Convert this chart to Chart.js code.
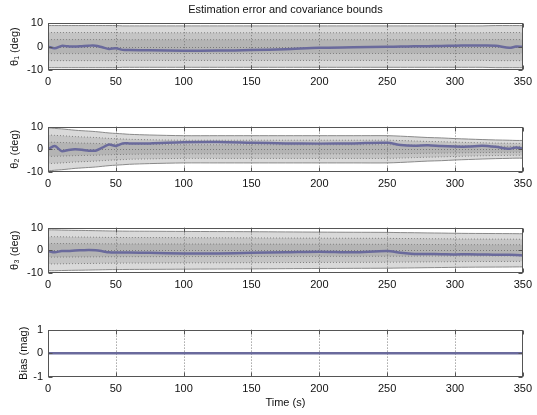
<!DOCTYPE html>
<html>
<head>
<meta charset="utf-8">
<script src="https://cdn.jsdelivr.net/npm/chart.js@4.4.1/dist/chart.umd.min.js"></script>
<style>
  body{margin:0;background:#fff;}
  #wrap{position:relative;width:537px;height:415px;overflow:hidden;}
  #wrap canvas{position:absolute;left:0;}
</style>
</head>
<body>
<div id="wrap">
  <canvas id="c1" width="537" height="92" style="top:0px"></canvas>
  <canvas id="c2" width="537" height="79" style="top:114.5px"></canvas>
  <canvas id="c3" width="537" height="79" style="top:216px"></canvas>
  <canvas id="c4" width="537" height="97" style="top:318px"></canvas>
</div>
<script>
// time axis (s)
const time = [0,5,10,15,20,25,30,35,40,45,50,55,60,75,100,125,150,175,200,225,250,260,270,280,290,300,310,320,330,340,345,350]
const xTicks = [0,50,100,150,200,250,300,350]

// estimation error (deg)
const err_th1 = [0,-0.7,0.3,0.1,0.0,0.2,0.4,0.4,-0.3,-1.0, -0.7,-1.4,-1.5,-1.6,-1.8,-1.7,-1.5,-1.1,-0.5,-0.3, -0.1,0.0,0.1,0.2,0.3,0.4,0.5,0.5,0.4,-0.5, 0.0,-0.1]
const err_th2 = [0,1.5,-0.8,-0.3,0,-0.2,-0.6,-0.6,0.7,2.1, 1.5,2.6,2.6,2.6,3.1,3.2,2.9,2.6,2.5,2.6, 2.9,1.9,1.6,1.8,1.4,1.2,1.2,1.6,1.1,0.2, 0.8,0.2]
const err_th3 = [-0.3,-0.9,-0.3,-0.3,-0.1,0,0.1,0,-0.4,-0.9, -1.0,-1.0,-1.0,-1.1,-1.4,-1.4,-1.1,-0.9,-0.6,-0.9, -0.3,-1.1,-1.6,-1.6,-1.7,-1.8,-1.7,-1.8,-2.0,-2.0, -2.1,-2.3]
const err_bias = [0,0,0,0,0,0,0,0,0,0, 0,0,0,0,0,0,0,0,0,0, 0,0,0,0,0,0,0,0,0,0, 0,0]

// 1-sigma covariance bound (deg); bands are drawn at 1,2,3 sigma
const sig_th1 = [3.0,3.0,3.0,3.0,3.0,3.0,3.0,3.0,3.0,3.0, 3.0,2.95,2.95,2.95,2.95,2.95,2.95,2.95,2.95,2.95, 2.95,2.95,2.95,2.95,2.95,2.95,2.95,2.95,3.0,3.0, 3.0,3.0]
const sig_th2 = [3.17,3.07,3.0,2.9,2.8,2.73,2.67,2.6,2.5,2.4, 2.33,2.27,2.2,2.1,2.0,2.0,2.0,2.0,2.0,2.0, 2.0,1.93,1.83,1.73,1.67,1.57,1.5,1.43,1.37,1.33, 1.3,1.3]
const sig_th3 = [3.0,3.0,2.97,2.95,2.93,2.92,2.9,2.88,2.86,2.84, 2.83,2.82,2.81,2.8,2.77,2.75,2.73,2.7,2.67,2.65, 2.63,2.6,2.58,2.55,2.53,2.5,2.48,2.47,2.46,2.45, 2.44,2.43]

const FONT = "'Liberation Sans', Arial, Helvetica, sans-serif"
Chart.defaults.font.family = FONT
Chart.defaults.font.size = 11
Chart.defaults.color = '#111'
Chart.defaults.animation = false

const LINE_COLOR = '#6a6a9c'
const BAND = ['#b4b4b4','#c4c4c4','#d9d9d9']

const pts = (arr, k) => time.map((t, i) => ({x: t, y: arr[i] * k}))

// MATLAB style box, dotted grid and inward ticks
const axes_box = {
  id: 'axes_box',
  beforeDatasetsDraw(chart) {
    const {ctx, chartArea: a, scales: {x, y}} = chart
    ctx.save()
    ctx.strokeStyle = '#7a7a7a'
    ctx.lineWidth = 1
    ctx.setLineDash([1, 2])
    x.ticks.forEach((t) => {
      if (t.value <= x.min || t.value >= x.max) return
      const px = Math.round(x.getPixelForValue(t.value)) + 0.5
      ctx.beginPath(); ctx.moveTo(px, a.top); ctx.lineTo(px, a.bottom); ctx.stroke()
    })
    y.ticks.forEach((t) => {
      if (t.value <= y.min || t.value >= y.max) return
      const py = Math.round(y.getPixelForValue(t.value)) + 0.5
      ctx.beginPath(); ctx.moveTo(a.left, py); ctx.lineTo(a.right, py); ctx.stroke()
    })
    ctx.restore()
  },
  afterDatasetsDraw(chart) {
    const {ctx, chartArea: a, scales: {x, y}} = chart
    const L = Math.round(a.left) + 0.5, R = Math.round(a.right) - 0.5
    const T = Math.round(a.top) + 0.5, B = Math.round(a.bottom) - 0.5
    ctx.save()
    ctx.strokeStyle = '#555'
    ctx.lineWidth = 1
    ctx.beginPath()
    x.ticks.forEach((t) => {
      const px = Math.round(x.getPixelForValue(t.value)) + 0.5
      ctx.moveTo(px, T); ctx.lineTo(px, T + 4)
      ctx.moveTo(px, B); ctx.lineTo(px, B - 4)
    })
    y.ticks.forEach((t) => {
      const py = Math.round(y.getPixelForValue(t.value)) + 0.5
      ctx.moveTo(L, py); ctx.lineTo(L + 4, py)
      ctx.moveTo(R, py); ctx.lineTo(R - 4, py)
    })
    ctx.stroke()
    ctx.strokeRect(L, T, R - L, B - T)
    ctx.restore()
  }
}

const make_chart = (id, err, sig, cfg) => {
  const datasets = [{
    data: pts(err, 1), borderColor: LINE_COLOR, borderWidth: cfg.lw || 2.5,
    pointRadius: 0, tension: 0.3, fill: false
  }]
  if (sig) {
    ;[1, 2, 3].forEach((k) => {
      const solid = k === 3
      const style = {
        borderColor: solid ? '#8a8a8a' : '#808080', borderWidth: 1,
        borderDash: solid ? [] : [1, 2], pointRadius: 0, tension: 0.3
      }
      datasets.push({...style, data: pts(sig, k), fill: '+1', backgroundColor: BAND[k - 1]})
      datasets.push({...style, data: pts(sig, -k), fill: false})
    })
  }
  return new Chart(document.getElementById(id), {
    type: 'line',
    data: {datasets},
    plugins: [axes_box],
    options: {
      responsive: false,
      layout: {padding: {top: cfg.padTop, right: 9, left: 0, bottom: 0}},
      plugins: {
        legend: {display: false},
        tooltip: {enabled: false},
        filler: {drawTime: 'beforeDraw'},
        title: {
          display: !!cfg.title, text: cfg.title || '', fullSize: false,
          font: {size: 11, weight: 'normal'}, color: '#111',
          padding: {top: 3, bottom: 7}
        }
      },
      scales: {
        x: {
          type: 'linear', min: 0, max: 350,
          afterBuildTicks: (s) => { s.ticks = xTicks.map((v) => ({value: v})) },
          ticks: {padding: 5, maxRotation: 0, autoSkip: false, color: '#111'},
          grid: {display: false, drawTicks: false},
          border: {display: false},
          title: {display: !!cfg.xTitle, text: cfg.xTitle || '', color: '#111', font: {size: 11}, padding: {top: 0, bottom: 5}},
          afterFit: (s) => { s.height = cfg.xh }
        },
        y: {
          min: cfg.yMin, max: cfg.yMax,
          afterBuildTicks: (s) => { s.ticks = cfg.yTicks.map((v) => ({value: v})) },
          ticks: {padding: 5, color: '#111'},
          grid: {display: false, drawTicks: false},
          border: {display: false},
          title: {display: true, text: cfg.yTitle, color: '#111', font: {size: 11}, padding: {top: cfg.ytPad, bottom: 0}},
          afterFit: (s) => { s.width = 48 }
        }
      }
    }
  })
}

make_chart('c1', err_th1, sig_th1, {title: 'Estimation error and covariance bounds', padTop: 0, xh: 22, yMin: -10, yMax: 10, yTicks: [-10, 0, 10], yTitle: 'θ₁ (deg)', ytPad: 8})
make_chart('c2', err_th2, sig_th2, {padTop: 10, xh: 22, yMin: -10, yMax: 10, yTicks: [-10, 0, 10], yTitle: 'θ₂ (deg)', ytPad: 8})
make_chart('c3', err_th3, sig_th3, {padTop: 10, xh: 22, yMin: -10, yMax: 10, yTicks: [-10, 0, 10], yTitle: 'θ₃ (deg)', ytPad: 8})
make_chart('c4', err_bias, null, {padTop: 10, xh: 38, xTitle: 'Time (s)', yMin: -1, yMax: 1, yTicks: [-1, 0, 1], yTitle: 'Bias (mag)', ytPad: 17, lw: 2.5})
</script>
</body>
</html>
